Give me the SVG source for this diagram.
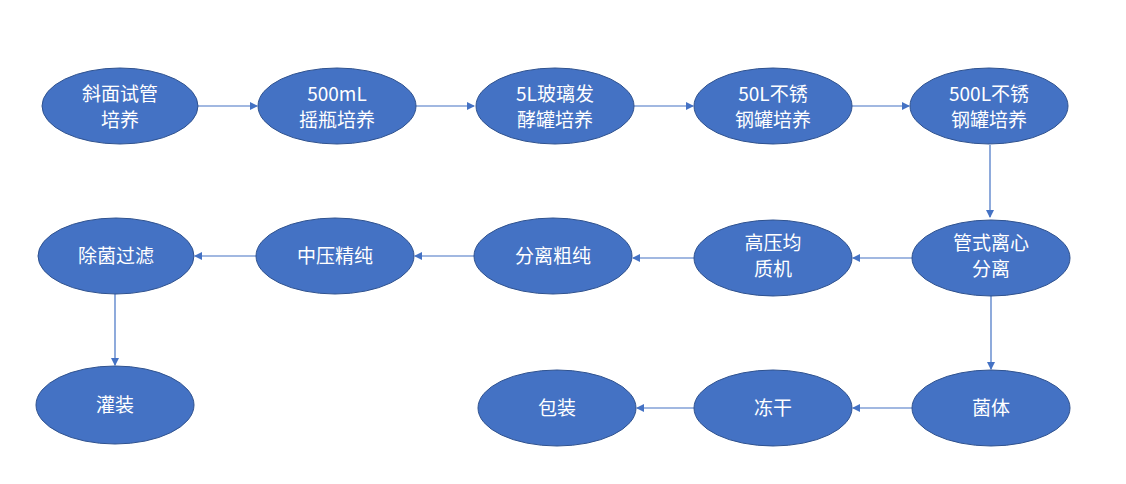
<svg xmlns="http://www.w3.org/2000/svg" width="1126" height="484" viewBox="0 0 1126 484">
<style>
.n ellipse{fill:#4472C4;stroke:#2F528F;stroke-width:1}
.n text{fill:#fff;font-family:"Noto Sans CJK SC","Liberation Sans",sans-serif;font-size:19px;text-anchor:middle}
.c line{stroke:#4472C4;stroke-width:1.2;marker-end:url(#a)}
</style>
<defs><marker id="a" markerWidth="8" markerHeight="8" refX="7" refY="4" orient="auto" markerUnits="userSpaceOnUse"><path d="M0,0 L8,4 L0,8 Z" fill="#4472C4"/></marker></defs>
<rect width="1126" height="484" fill="#fff"/>
<g class="c">
<line x1="198" y1="106" x2="257" y2="106"/>
<line x1="416" y1="106" x2="474" y2="106"/>
<line x1="634" y1="106" x2="693" y2="106"/>
<line x1="852" y1="106" x2="909" y2="106"/>
<line x1="990" y1="145" x2="990" y2="217"/>
<line x1="912" y1="258" x2="853" y2="258"/>
<line x1="694" y1="258" x2="633" y2="258"/>
<line x1="474" y1="256" x2="415" y2="256"/>
<line x1="256" y1="256" x2="195" y2="256"/>
<line x1="115" y1="294" x2="115" y2="365"/>
<line x1="991" y1="296" x2="991" y2="369"/>
<line x1="912" y1="408" x2="853" y2="408"/>
<line x1="694" y1="408" x2="637" y2="408"/>
</g>
<g id="n1" class="n"><ellipse cx="120" cy="106" rx="78" ry="38"/><text x="120" y="101">斜面试管</text><text x="120" y="127">培养</text></g>
<g id="n2" class="n"><ellipse cx="337" cy="106" rx="79" ry="38"/><text x="337" y="101">500mL</text><text x="337" y="127">摇瓶培养</text></g>
<g id="n3" class="n"><ellipse cx="555" cy="106" rx="79" ry="38"/><text x="555" y="101">5L玻璃发</text><text x="555" y="127">酵罐培养</text></g>
<g id="n4" class="n"><ellipse cx="773" cy="106" rx="79" ry="38"/><text x="773" y="101">50L不锈</text><text x="773" y="127">钢罐培养</text></g>
<g id="n5" class="n"><ellipse cx="989" cy="106" rx="79" ry="38"/><text x="989" y="101">500L不锈</text><text x="989" y="127">钢罐培养</text></g>
<g id="n6" class="n"><ellipse cx="991" cy="258" rx="79" ry="38"/><text x="991" y="250">管式离心</text><text x="991" y="276">分离</text></g>
<g id="n7" class="n"><ellipse cx="773" cy="258" rx="79" ry="38"/><text x="773" y="250">高压均</text><text x="773" y="276">质机</text></g>
<g id="n8" class="n"><ellipse cx="553" cy="256" rx="79" ry="38"/><text x="553" y="263">分离粗纯</text></g>
<g id="n9" class="n"><ellipse cx="335" cy="256" rx="79" ry="38"/><text x="335" y="263">中压精纯</text></g>
<g id="n10" class="n"><ellipse cx="116" cy="256" rx="78" ry="38"/><text x="116" y="263">除菌过滤</text></g>
<g id="n11" class="n"><ellipse cx="115" cy="405" rx="79" ry="39"/><text x="115" y="412">灌装</text></g>
<g id="n12" class="n"><ellipse cx="991" cy="408" rx="79" ry="38"/><text x="991" y="415">菌体</text></g>
<g id="n13" class="n"><ellipse cx="773" cy="408" rx="79" ry="38"/><text x="773" y="415">冻干</text></g>
<g id="n14" class="n"><ellipse cx="557" cy="408" rx="79" ry="38"/><text x="557" y="415">包装</text></g>
</svg>
